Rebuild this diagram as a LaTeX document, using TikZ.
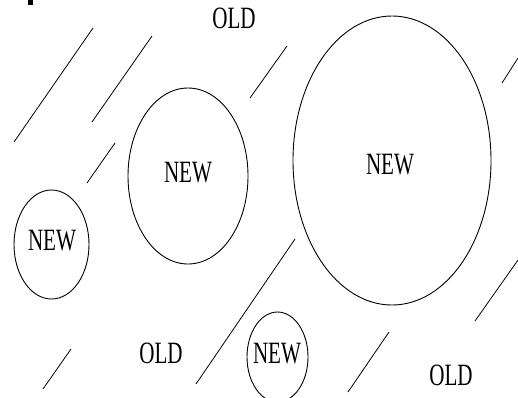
\documentclass[tikz,border=0pt]{standalone}
\usepackage{fontspec}
\setmainfont{Liberation Serif}
\usetikzlibrary{shapes.geometric}
\begin{document}
\begin{tikzpicture}[x=1pt,y=-1pt,
  blob/.style={draw, ellipse, line width=0.9pt, inner sep=0pt},
  lbl/.style={inner sep=0pt, font=\fontsize{31}{31}\selectfont},
  slash/.style={line width=0.8pt}]
\useasboundingbox (0,0) rectangle (518,397);
\fill (28,0) rectangle (33,5);
% ellipses
\node[blob, minimum width=75, minimum height=109] (n1) at (51.5,244.5) {};
\node[blob, minimum width=120, minimum height=176] (n2) at (188,176) {};
\node[blob, minimum width=198, minimum height=289] (n3) at (392,160.5) {};
\node[blob, minimum width=61, minimum height=90] (n4) at (277.5,357) {};
% texts
\node[lbl] (t1) at (52,241) {\scalebox{0.68}[1]{NEW}};
\node[lbl] (t2) at (188,173) {\scalebox{0.68}[1]{NEW}};
\node[lbl] (t3) at (390,165) {\scalebox{0.68}[1]{NEW}};
\node[lbl] (t4) at (277,354) {\scalebox{0.68}[1]{NEW}};
\node[lbl] (o1) at (234,18) {\scalebox{0.68}[1]{OLD}};
\node[lbl] (o2) at (161,353) {\scalebox{0.68}[1]{OLD}};
\node[lbl] (o3) at (451,375) {\scalebox{0.68}[1]{OLD}};
% slashes
\coordinate (a1) at (93,28);  \coordinate (b1) at (14,142);
\coordinate (a2) at (152,36); \coordinate (b2) at (92,122);
\coordinate (a3) at (115,143);\coordinate (b3) at (87,183);
\coordinate (a4) at (287,46); \coordinate (b4) at (250,98);
\coordinate (a5) at (518,58); \coordinate (b5) at (502,83);
\coordinate (a6) at (71,349); \coordinate (b6) at (43,389);
\coordinate (a7) at (295,239);\coordinate (b7) at (196,384);
\coordinate (a8) at (389,332);\coordinate (b8) at (348,392);
\coordinate (a9) at (518,260);\coordinate (b9) at (475,321);
\foreach \i in {1,...,9} {\draw[slash] (a\i) -- (b\i);}
\end{tikzpicture}
\end{document}
